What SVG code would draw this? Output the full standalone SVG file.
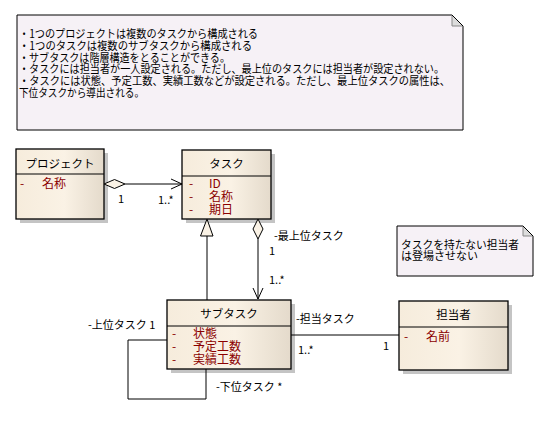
<svg xmlns="http://www.w3.org/2000/svg" width="548" height="424" viewBox="0 0 548 424">
<defs>
<linearGradient id="cls" x1="0" y1="0" x2="1" y2="0">
<stop offset="0" stop-color="#F6ECDC"/>
<stop offset="0.55" stop-color="#FAF2E5"/>
<stop offset="1" stop-color="#E4DACB"/>
</linearGradient>
<marker id="open" viewBox="0 0 12 12" refX="11" refY="6" markerWidth="12" markerHeight="12" markerUnits="userSpaceOnUse" orient="auto">
<path d="M0,1 L11,6 L0,11" fill="none" stroke="#000" stroke-width="1"/>
</marker>
</defs>
<style>
text{font-family:"Noto Sans CJK JP","Noto Sans",sans-serif;font-size:11px;fill:#000}
.t{text-anchor:middle;font-size:11.5px}
.a{fill:#8B0000;font-size:12px}
.box{fill:url(#cls);stroke:#000;stroke-width:1.3}
.sh{fill:#C4C4C4}
.ln{fill:none;stroke:#000;stroke-width:1}
.note{fill:#F6F1F6;stroke:#000;stroke-width:1}
</style>
<rect width="548" height="424" fill="#fff"/>

<g id="note1">
<path class="note" d="M17,15 H452 L463,26 V130 H17 Z"/>
<path d="M452,15 V26 H463" fill="#DCDCDC" stroke="#888" stroke-width="1"/>
<path d="M452,15 L463,26" stroke="#000" stroke-width="1"/>
<text style="font-size:11.5px">
<tspan x="19" y="38" textLength="239" lengthAdjust="spacingAndGlyphs">・1つのプロジェクトは複数のタスクから構成される</tspan>
<tspan x="19" y="50" textLength="233" lengthAdjust="spacingAndGlyphs">・1つのタスクは複数のサブタスクから構成される</tspan>
<tspan x="19" y="61.5" textLength="211" lengthAdjust="spacingAndGlyphs">・サブタスクは階層構造をとることができる。</tspan>
<tspan x="19" y="73" textLength="425" lengthAdjust="spacingAndGlyphs">・タスクには担当者が一人設定される。ただし、最上位のタスクには担当者が設定されない。</tspan>
<tspan x="19" y="85" textLength="431" lengthAdjust="spacingAndGlyphs">・タスクには状態、予定工数、実績工数などが設定される。ただし、最上位タスクの属性は、</tspan>
<tspan x="19" y="96.5" textLength="125" lengthAdjust="spacingAndGlyphs">下位タスクから導出される。</tspan>
</text>
</g>

<g id="note2">
<path class="note" d="M397,226 H523 L533,236 V276 H397 Z"/>
<path d="M523,226 V236 H533" fill="#DCDCDC" stroke="#888" stroke-width="1"/>
<path d="M523,226 L533,236" stroke="#000" stroke-width="1"/>
<text><tspan x="401" y="249" textLength="118" lengthAdjust="spacingAndGlyphs">タスクを持たない担当者</tspan><tspan x="401" y="260">は登場させない</tspan></text>
</g>

<g id="project">
<rect class="sh" x="20" y="153" width="88" height="70"/>
<rect class="box" x="16" y="149" width="88" height="70"/>
<line class="ln" x1="16" y1="174" x2="104" y2="174" stroke-width="1.3"/>
<text class="t" x="60" y="168">プロジェクト</text>
<text class="a"><tspan x="20" y="188">-</tspan><tspan x="42" y="188">名称</tspan></text>
</g>

<g id="task">
<rect class="sh" x="186" y="154" width="89" height="69"/>
<rect class="box" x="182" y="150" width="89" height="69"/>
<line class="ln" x1="182" y1="176" x2="271" y2="176" stroke-width="1.3"/>
<text class="t" x="226.5" y="168">タスク</text>
<text class="a"><tspan x="189" y="188">-</tspan><tspan x="209" y="188">ID</tspan><tspan x="189" y="201">-</tspan><tspan x="209" y="201">名称</tspan><tspan x="189" y="214">-</tspan><tspan x="209" y="214">期日</tspan></text>
</g>

<g id="subtask">
<rect class="sh" x="171" y="304" width="124" height="69"/>
<rect class="box" x="167" y="300" width="124" height="69"/>
<line class="ln" x1="167" y1="326" x2="291" y2="326" stroke-width="1.3"/>
<text class="t" x="229" y="318">サブタスク</text>
<text class="a"><tspan x="172" y="338">-</tspan><tspan x="193" y="338">状態</tspan><tspan x="172" y="351">-</tspan><tspan x="193" y="351">予定工数</tspan><tspan x="172" y="364">-</tspan><tspan x="193" y="364">実績工数</tspan></text>
</g>

<g id="assignee">
<rect class="sh" x="403" y="305" width="109" height="69"/>
<rect class="box" x="399" y="301" width="109" height="69"/>
<line class="ln" x1="399" y1="327" x2="508" y2="327" stroke-width="1.3"/>
<text class="t" x="453.5" y="319">担当者</text>
<text class="a"><tspan x="404" y="341">-</tspan><tspan x="426" y="341">名前</tspan></text>
</g>

<g id="connectors">
<line class="ln" x1="125" y1="184" x2="182" y2="184" marker-end="url(#open)"/>
<path d="M104,184 L114.5,179.5 L125,184 L114.5,188.5 Z" fill="#FAF2E5" stroke="#000" stroke-width="1"/>
<text x="118" y="203">1</text>
<text x="158" y="204">1..*</text>

<line class="ln" x1="207" y1="236" x2="207" y2="300"/>
<path d="M207,219 L213,236 L200.5,236 Z" fill="#FAF2E5" stroke="#000" stroke-width="1"/>

<line class="ln" x1="258" y1="239" x2="258" y2="299" marker-end="url(#open)"/>
<path d="M258,219 L263,229 L258,239 L253,229 Z" fill="#FAF2E5" stroke="#000" stroke-width="1"/>
<text x="274" y="240">-最上位タスク</text>
<text x="269" y="255">1</text>
<text x="269" y="284">1..*</text>

<polyline class="ln" points="167,340 128,340 128,399 206,399 206,369"/>
<text x="88" y="329">-上位タスク 1</text>
<text x="216" y="391">-下位タスク *</text>

<line class="ln" x1="291" y1="335" x2="399" y2="335"/>
<text x="296" y="323">-担当タスク</text>
<text x="298" y="354">1..*</text>
<text x="383" y="350">1</text>
</g>
</svg>
